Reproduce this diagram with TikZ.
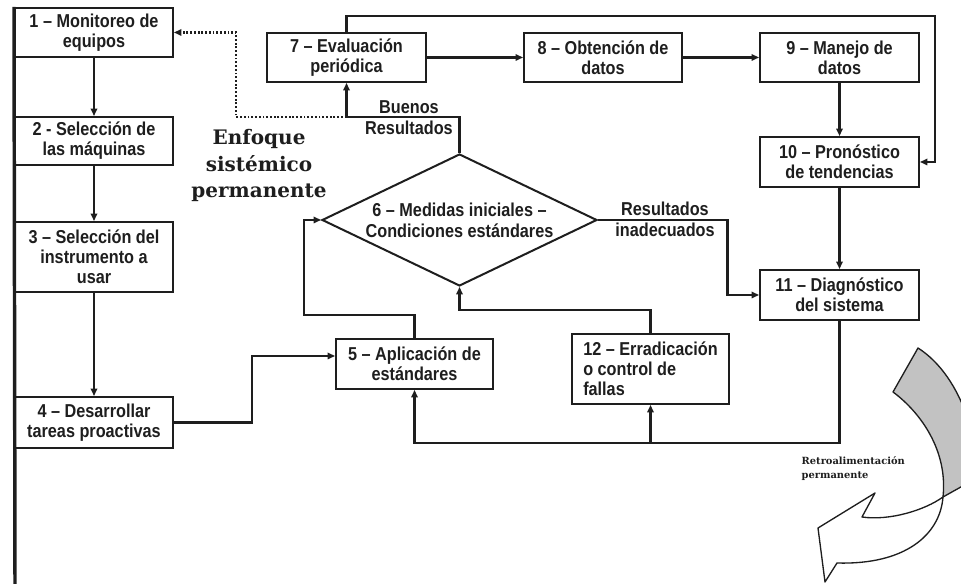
\documentclass[tikz,border=0pt]{standalone}
\usepackage{fontspec}
\usetikzlibrary{arrows.meta,shapes.geometric}
\newfontfamily\boxfont{Liberation Sans}[FakeStretch=0.87]
\newfontfamily\headfont{DejaVu Serif}
\definecolor{ink}{HTML}{1E1E1E}
\definecolor{ribbon}{HTML}{C2C2C2}

\begin{document}
\begin{tikzpicture}[x=0.75pt,y=-0.75pt,
  every node/.style={text=ink},
  flow/.style={draw=ink, line width=1.5pt, fill=white, align=center, inner sep=2pt,
    minimum width=118.5pt, minimum height=36.75pt,
    font=\boxfont\bfseries\fontsize{14}{15}\selectfont},
  decision/.style={diamond, draw=ink, line width=1.5pt, fill=white, align=center, inner sep=0pt,
    minimum width=206.25pt, minimum height=99pt, aspect=2.08,
    font=\boxfont\bfseries\fontsize{14}{15.5}\selectfont},
  link/.style={draw=ink, line width=1.7pt},
  arr/.style={link, -{Triangle[length=5.5pt,width=4.8pt]}},
  dotlink/.style={draw=ink, line width=1.7pt, dash pattern=on 1.4pt off 1.4pt,
    -{Triangle[length=5.5pt,width=4.8pt]}},
  lbl/.style={align=center, font=\boxfont\bfseries\fontsize{14}{15.5}\selectfont},
]
\useasboundingbox (0,0) rectangle (961,584);

% ---- process boxes ----
\node[flow] (b1) at (94,32.5) {1 – Monitoreo de\\equipos};
\node[flow, minimum height=36pt] (b2) at (94,141) {2 - Selección de\\las máquinas};
\node[flow, minimum height=52.5pt] (b3) at (94,257) {3 – Selección del\\instrumento a\\usar};
\node[flow, minimum height=38.25pt] (b4) at (94,422.5) {4 – Desarrollar\\tareas proactivas};
\node[flow, minimum width=117.75pt, minimum height=37.5pt] (b5) at (414.5,364) {5 – Aplicación de\\estándares};
\node[flow, minimum width=119.25pt] (b7) at (346.5,57.5) {7 – Evaluación\\periódica};
\node[flow] (b8) at (603,57.5) {8 – Obtención de\\datos};
\node[flow, minimum width=119.25pt] (b9) at (839.5,57.5) {9 – Manejo de\\datos};
\node[flow, minimum width=119.25pt, minimum height=37.5pt] (b10) at (839.5,162) {10 – Pronóstico\\de tendencias};
\node[flow, minimum width=119.25pt, minimum height=37.5pt] (b11) at (839.5,295) {11 – Diagnóstico\\del sistema};
\node[flow, align=left, minimum width=117.75pt, minimum height=52.5pt] (b12) at (650.5,369)
  {12 – Erradicación\\o control de\\fallas};

\node[decision] (d) at (459.5,220) {6 – Medidas iniciales –\\Condiciones estándares};

% ---- left spine ----
\coordinate (spineend) at (15,584);
\draw[line width=2.6pt, ink] (b1.north west) -- (spineend);

% ---- routing points ----
\coordinate (c1) at (304,315);
\coordinate (j1) at (346.5,117);
\coordinate (c2) at (236,117);
\coordinate (c3) at (935,16);
\coordinate (c4) at (727.5,295);
\coordinate (c5) at (600,443);
\coordinate (c6) at (550,310);
\coordinate (c7) at (252,400);

% ---- connectors ----
\draw[arr] (b1) -- (b2);
\draw[arr] (b2) -- (b3);
\draw[arr] (b3) -- (b4);
\draw[arr] (b4.east) -| (c7) |- ([yshift=6pt]b5.west);
\draw[arr] (b5.north) |- (c1) |- (d.west);
\draw[arr] (d.north) |- (j1) -- (b7.south);
\draw[dotlink] (j1) -- (c2) |- (b1.east);
\draw[arr] (b7) -- (b8);
\draw[arr] (b8) -- (b9);
\draw[arr] (b7.north) |- (c3) |- (b10.east);
\draw[arr] (b9) -- (b10);
\draw[arr] (b10) -- (b11);
\draw[arr] (d.east) -| (c4) -- (b11.west);
\draw[arr] (b11.south) |- (c5) -| (b5.south);
\draw[arr] (b12.south |- c5) -- (b12.south);
\draw[arr] (b12.north) |- (c6) -| (d.south);

% ---- labels ----
\node[lbl] (good) at (409,117.5) {Buenos\\Resultados};
\node[lbl] (bad) at (665,219.5) {Resultados\\inadecuados};
\node[align=center, font=\headfont\bfseries\fontsize{15}{20}\selectfont] (enf) at (259,165.5)
  {Enfoque\\sistémico\\permanente};
\node[anchor=west, align=left, font=\headfont\bfseries\fontsize{7.4}{10.5}\selectfont] (retro)
  at (797,469) {Retroalimentación\\permanente};

% ---- curved feedback arrow ----
\begin{scope}
  \clip (0,0) rectangle (961,584);
  \filldraw[fill=ribbon, draw=ink, line width=1pt, line join=round]
    (918,348) .. controls (940,362) and (958,388) .. (968,420)
    -- (968,483) -- (943,497)
    .. controls (948,450) and (920,412) .. (893,392) -- cycle;
  \filldraw[fill=white, draw=ink, line width=1pt, line join=round]
    (943,497) .. controls (940,535) and (905,565) .. (837,563)
    -- (825,582) -- (818,528) -- (875,493) -- (862,517)
    .. controls (890,521) and (925,510) .. (943,497) -- cycle;
\end{scope}
\end{tikzpicture}
\end{document}
